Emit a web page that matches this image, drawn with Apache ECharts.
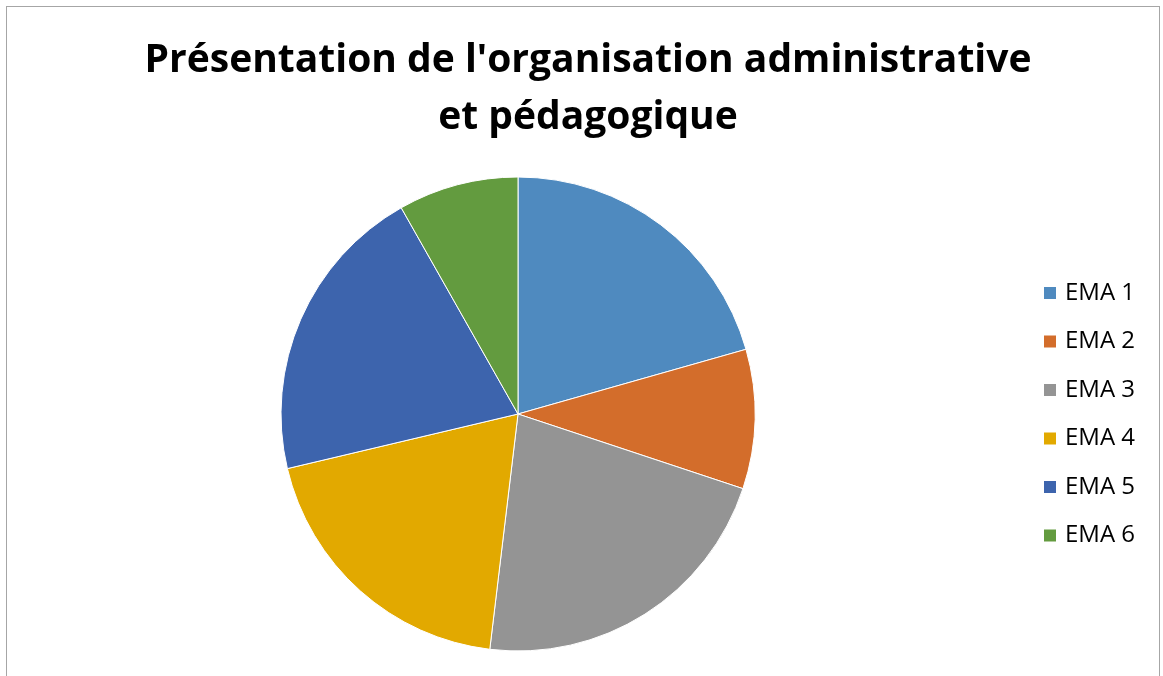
<!DOCTYPE html>
<html>
<head>
<meta charset="utf-8">
<script src="https://cdn.jsdelivr.net/npm/echarts@6/dist/echarts.min.js"></script>
<style>
  html, body { margin: 0; padding: 0; background: #fff; overflow: hidden; }
  #frame {
    position: absolute; left: 6px; top: 6px; width: 1154px; height: 720px;
    border: 1px solid #a6a6a6; box-sizing: border-box;
  }
  #chart { position: absolute; left: 0; top: 0; width: 1163px; height: 676px; }
</style>
</head>
<body>
<div id="frame"></div>
<div id="chart"></div>
<script>
  // libellés et parts (en %)
  const categories = ['EMA 1', 'EMA 2', 'EMA 3', 'EMA 4', 'EMA 5', 'EMA 6'];
  const values = [20.6, 9.5, 21.8, 19.4, 20.5, 8.2];
  const colors = ['#4f8abf', '#d36d2b', '#949494', '#e2a900', '#3d64ad', '#639b3f'];
  const titleText = "Présentation de l'organisation administrative\net pédagogique";

  const chart = echarts.init(document.getElementById('chart'));

  const option = {
    animation: false,
    color: colors,
    title: {
      text: titleText,
      left: 588,
      top: 32,
      padding: 0,
      textAlign: 'center',
      textStyle: {
        fontFamily: 'Open Sans',
        fontWeight: 'bold',
        fontSize: 39,
        lineHeight: 57,
        color: '#000',
      },
    },
    legend: {
      orient: 'vertical',
      left: 1042,
      top: 281,
      padding: 0,
      itemWidth: 14,
      itemHeight: 14,
      itemGap: 24.5,
      icon: 'rect',
      data: categories,
      textStyle: {
        fontFamily: 'Open Sans',
        fontSize: 24,
        lineHeight: 24,
        color: '#000',
        padding: [0, 0, 0, 3],
      },
    },
    series: [
      {
        type: 'pie',
        center: [518, 414],
        radius: 237,
        startAngle: 90,
        clockwise: true,
        label: { show: false },
        labelLine: { show: false },
        emphasis: { disabled: true },
        itemStyle: { borderColor: '#fff', borderWidth: 1 },
        data: categories.map((name, i) => ({ name, value: values[i] })),
      },
    ],
  };

  chart.setOption(option);
</script>
</body>
</html>
